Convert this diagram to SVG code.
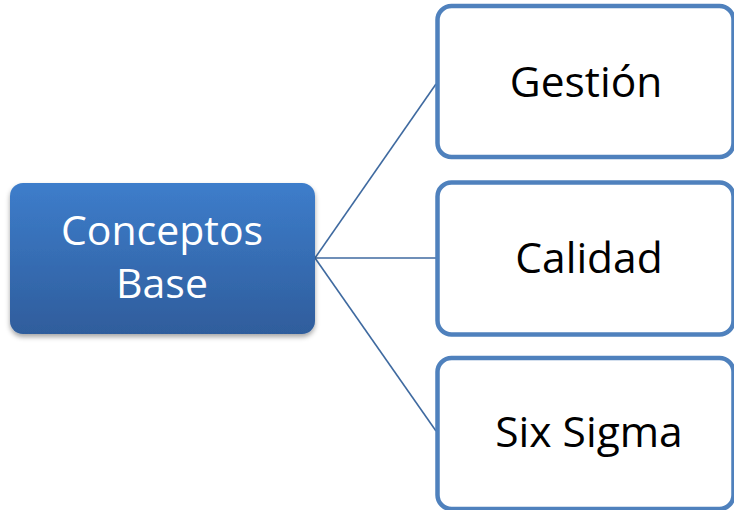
<svg xmlns="http://www.w3.org/2000/svg" width="734" height="510" viewBox="0 0 734 510">
  <defs>
    <linearGradient id="blueGrad" x1="0" y1="0" x2="0" y2="1">
      <stop offset="0" stop-color="#3d7dcb"/>
      <stop offset="1" stop-color="#2f5d9c"/>
    </linearGradient>
    <filter id="shadow" x="-10%" y="-10%" width="120%" height="130%">
      <feDropShadow dx="0" dy="3" stdDeviation="2.5" flood-color="#000" flood-opacity="0.35"/>
    </filter>
  </defs>
  <style>
    .child { fill: #ffffff; stroke: #4f81bd; stroke-width: 4.5; }
    .conn { stroke: #3f6aa0; stroke-width: 1.6; fill: none; }
    .lbl { font-family: "Open Sans", "Noto Sans", sans-serif; font-size: 41px; text-anchor: middle; }
    .big { font-size: 42.5px; }
    .dark { fill: #000000; }
    .light { fill: #ffffff; }
  </style>
  <rect width="734" height="510" fill="#ffffff"/>
  <g id="connectors">
    <line class="conn" x1="315" y1="258" x2="436" y2="84"/>
    <line class="conn" x1="315" y1="258" x2="436" y2="258"/>
    <line class="conn" x1="315" y1="258" x2="436" y2="431"/>
  </g>
  <g id="node-conceptos">
    <rect x="10" y="183" width="305" height="151" rx="13" fill="url(#blueGrad)" filter="url(#shadow)"/>
    <text class="lbl light" x="162" y="245">Conceptos</text>
    <text class="lbl light" x="162" y="298">Base</text>
  </g>
  <g id="node-gestion">
    <rect class="child" x="437.5" y="6" width="296" height="151" rx="14"/>
    <text class="lbl big dark" x="586" y="97">Gestión</text>
  </g>
  <g id="node-calidad">
    <rect class="child" x="437.5" y="182.5" width="296" height="152" rx="14"/>
    <text class="lbl big dark" x="589" y="273">Calidad</text>
  </g>
  <g id="node-sixsigma">
    <rect class="child" x="437.5" y="358" width="296" height="151" rx="14"/>
    <text class="lbl big dark" x="589" y="447">Six Sigma</text>
  </g>
</svg>
